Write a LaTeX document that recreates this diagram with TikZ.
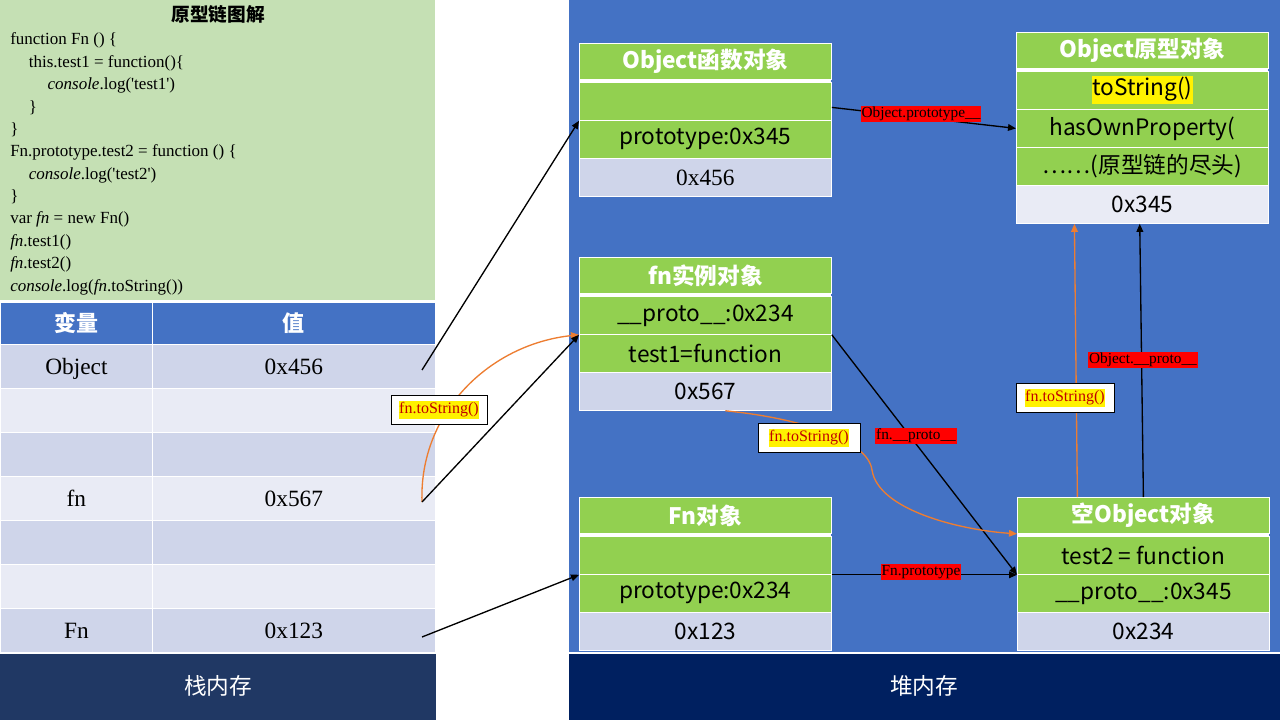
\documentclass[tikz,border=0pt]{standalone}
\usepackage{fontspec}
\setmainfont{Liberation Serif}[Ligatures=TeXOff]
\newfontfamily\cjk{Noto Sans CJK SC}
\usetikzlibrary{arrows.meta,calc}
\definecolor{codegreen}{HTML}{C5E0B4}
\definecolor{hblue}{HTML}{4472C4}
\definecolor{rowdark}{HTML}{CFD5EA}
\definecolor{rowlight}{HTML}{E9EBF5}
\definecolor{stacknavy}{HTML}{203864}
\definecolor{heapnavy}{HTML}{002060}
\definecolor{cgreen}{HTML}{92D050}
\definecolor{orng}{HTML}{ED7D31}
\definecolor{lblred}{HTML}{C00000}
\newcommand\hl[1]{{\setlength{\fboxsep}{0.5pt}\colorbox{yellow}{\strut #1}}}
\begin{document}
\begin{tikzpicture}[x=0.75pt,y=-0.75pt,
  cellbox/.style={rectangle,draw=white,line width=0.6pt,inner sep=0pt,anchor=north west},
  codeline/.style={anchor=base west,inner sep=0pt,font=\fontsize{12.75}{15}\selectfont},
  thcell/.style={cellbox,fill=hblue,minimum height=31.5pt,text=white,font=\cjk\bfseries\fontsize{16.5}{20}\selectfont},
  tdcell/.style={cellbox,minimum height=33pt,text depth=0pt,font=\fontsize{17.5}{20}\selectfont},
  hdrcell/.style={cellbox,fill=cgreen,minimum width=189pt,minimum height=27pt,text=white,font=\cjk\bfseries\fontsize{17}{20}\selectfont},
  grnrow/.style={cellbox,fill=cgreen,minimum width=189pt,minimum height=28.5pt,font=\cjk\fontsize{17}{20}\selectfont},
  lvrow/.style={cellbox,minimum width=189pt,minimum height=28.5pt,font=\cjk\fontsize{17}{20}\selectfont},
  redlbl/.style={fill=red,inner sep=0.8pt,text=black,font=\fontsize{11.5}{12}\selectfont},
  tslbl/.style={fill=white,draw=black,line width=0.6pt,inner sep=2pt,text=lblred,font=\fontsize{12}{13}\selectfont},
  blkarrow/.style={draw=black,line width=1pt,-{Triangle[length=6pt,width=5pt]}},
  orgarrow/.style={draw=orng,line width=1pt,-{Triangle[length=6pt,width=5pt]}},
  bartext/.style={text=white,font=\cjk\fontsize{17}{20}\selectfont}
]
\useasboundingbox (0,0) rectangle (1280,720);
\fill[white] (0,0) rectangle (1280,720);

% ---------- code box ----------
\fill[codegreen] (0,0) rectangle (435,300);
\node[anchor=base,inner sep=0pt,font=\cjk\bfseries\fontsize{14}{16}\selectfont] (title) at (218,22) {原型链图解};
\node[codeline] (c1) at (10,45) {function Fn () \{};
\node[codeline] (c2) at (10,67.4) {\hspace*{14pt}this.test1 = function()\{};
\node[codeline] (c3) at (10,89.7) {\hspace*{28pt}\textit{console}.log('test1')};
\node[codeline] (c4) at (10,112.1) {\hspace*{14pt}\}};
\node[codeline] (c5) at (10,134.4) {\}};
\node[codeline] (c6) at (10,156.8) {Fn.prototype.test2 = function () \{};
\node[codeline] (c7) at (10,179.2) {\hspace*{14pt}\textit{console}.log('test2')};
\node[codeline] (c8) at (10,201.5) {\}};
\node[codeline] (c9) at (10,223.9) {var \textit{fn} = new Fn()};
\node[codeline] (c10) at (10,246.2) {\textit{fn}.test1()};
\node[codeline] (c11) at (10,268.6) {\textit{fn}.test2()};
\node[codeline] (c12) at (10,291) {\textit{console}.log(\textit{fn}.toString())};

% ---------- stack table ----------
\node[thcell,minimum width=114pt] (thv) at (0,302) {变量};
\node[thcell,minimum width=212.25pt] (thz) at (152,302) {值};
\node[tdcell,fill=rowdark,minimum width=114pt] (r1a) at (0,344) {Object};
\node[tdcell,fill=rowdark,minimum width=212.25pt] (r1b) at (152,344) {0x456};
\node[tdcell,fill=rowlight,minimum width=114pt] (r2a) at (0,388) {};
\node[tdcell,fill=rowlight,minimum width=212.25pt] (r2b) at (152,388) {};
\node[tdcell,fill=rowdark,minimum width=114pt] (r3a) at (0,432) {};
\node[tdcell,fill=rowdark,minimum width=212.25pt] (r3b) at (152,432) {};
\node[tdcell,fill=rowlight,minimum width=114pt] (r4a) at (0,476) {fn};
\node[tdcell,fill=rowlight,minimum width=212.25pt] (r4b) at (152,476) {0x567};
\node[tdcell,fill=rowdark,minimum width=114pt] (r5a) at (0,520) {};
\node[tdcell,fill=rowdark,minimum width=212.25pt] (r5b) at (152,520) {};
\node[tdcell,fill=rowlight,minimum width=114pt] (r6a) at (0,564) {};
\node[tdcell,fill=rowlight,minimum width=212.25pt] (r6b) at (152,564) {};
\node[tdcell,fill=rowdark,minimum width=114pt] (r7a) at (0,608) {Fn};
\node[tdcell,fill=rowdark,minimum width=212.25pt] (r7b) at (152,608) {0x123};

% ---------- bottom bars ----------
\fill[stacknavy] (0,654) rectangle (436,720);
\node[bartext] (stk) at (218,686) {栈内存};
\fill[hblue] (569,0) rectangle (1280,652);
\fill[heapnavy] (569,654) rectangle (1280,720);
\node[bartext] (heap) at (924,686) {堆内存};

% ---------- Object function object ----------
\fill[white] (579,43) rectangle (831,196);
\node[hdrcell] (ofh) at (579,43) {Object函数对象};
\node[grnrow] (ofe) at (579,82) {};
\node[grnrow] (ofp) at (579,120) {prototype:0x345};
\node[lvrow,fill=rowdark,font=\fontsize{17.5}{20}\selectfont] (ofv) at (579,158) {0x456};

% ---------- Object prototype object ----------
\fill[white] (1016,32) rectangle (1268,223);
\node[hdrcell] (ph) at (1016,32) {Object原型对象};
\node[grnrow] (pts) at (1016,71) {\hl{toString()}};
\node[grnrow] (pho) at (1016,109) {hasOwnProperty(};
\node[grnrow] (pend) at (1016,147) {……(原型链的尽头)};
\node[lvrow,fill=rowlight] (pv) at (1016,185) {0x345};

% ---------- fn instance ----------
\fill[white] (579,257) rectangle (831,410);
\node[hdrcell] (fih) at (579,257) {fn实例对象};
\node[grnrow] (fip) at (579,296) {\_\_proto\_\_:0x234};
\node[grnrow] (fit) at (579,334) {test1=function};
\node[lvrow,fill=rowdark] (fiv) at (579,372) {0x567};

% ---------- Fn object ----------
\fill[white] (579,497) rectangle (831,650);
\node[hdrcell] (Fh) at (579,497) {Fn对象};
\node[grnrow] (Fe) at (579,536) {};
\node[grnrow] (Fp) at (579,574) {prototype:0x234};
\node[lvrow,fill=rowdark] (Fv) at (579,612) {0x123};

% ---------- empty Object ----------
\fill[white] (1017,497) rectangle (1269,650);
\node[hdrcell] (eh) at (1017,497) {空Object对象};
\node[grnrow] (et) at (1017,536) {test2 = function};
\node[grnrow] (ep) at (1017,574) {\_\_proto\_\_:0x345};
\node[lvrow,fill=rowdark] (ev) at (1017,612) {0x234};

% ---------- sources ----------
\coordinate (sObj) at (422,370);
\coordinate (sfn) at (422,502);
\coordinate (sFn) at (422,637);

% ---------- connectors ----------
\draw[blkarrow] (sObj) -- (ofe.south west);
\draw[orgarrow] (sfn) to[out=92,in=186] (fip.south west);
\draw[blkarrow] (sfn) -- (fip.south west);
\draw[blkarrow] (sFn) -- (Fe.south west);

\draw[blkarrow] ([yshift=-4.5pt]ofe.east) -- (pho.west);
\draw[blkarrow] (fip.south east) -- (et.south west);
\draw[blkarrow] (Fe.south east) -- (et.south west);
\draw[orgarrow] ([xshift=15pt]fiv.south) .. controls (800,418) and (868,440) .. (872,470)
           .. controls (878,510) and (960,530) .. (eh.south west);
\draw[orgarrow] ([xshift=-49.5pt]eh.north) -- ([xshift=-51pt]pv.south);
\draw[blkarrow] (eh.north) -- ([xshift=-2pt]pv.south);

% ---------- labels ----------
\node[tslbl,minimum width=72pt,minimum height=21.75pt] (l1) at (439,410) {\hl{fn.toString()}};
\node[redlbl] (l2) at (921,114) {Object.prototype\_\_};
\node[redlbl] (l3) at (916,436) {fn.\_\_proto\_\_};
\node[tslbl,minimum width=76.5pt,minimum height=21.75pt] (l4) at (809,438) {\hl{fn.toString()}};
\node[redlbl] (l5) at (921,572) {Fn.prototype};
\node[redlbl] (l6) at (1143,360) {Object.\_\_proto\_\_};
\node[tslbl,minimum width=73.5pt,minimum height=21.75pt] (l7) at (1065,398) {\hl{fn.toString()}};
\end{tikzpicture}
\end{document}
